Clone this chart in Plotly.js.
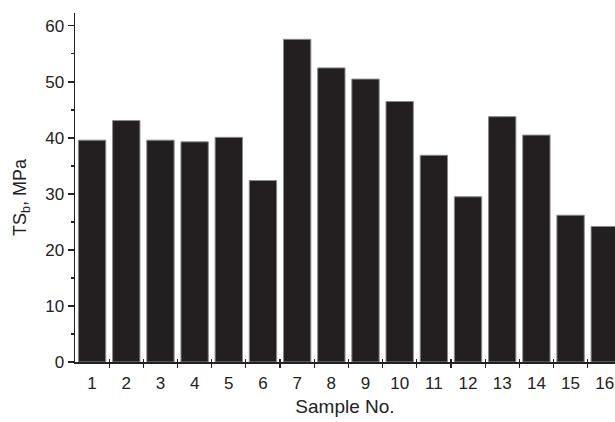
<!DOCTYPE html>
<html>
<head>
<meta charset="utf-8">
<script src="https://cdn.plot.ly/plotly-3.0.1.min.js"></script>
<style>html,body{margin:0;padding:0;background:#fff;}#chart{width:615px;height:422px;}</style>
</head>
<body>
<div id="chart"></div>
<script>
const samples = [1, 2, 3, 4, 5, 6, 7, 8, 9, 10, 11, 12, 13, 14, 15, 16];
const sampleLabels = ["1","2","3","4","5","6","7","8","9","10","11","12","13","14","15","16"];
const tsbValues = [39.6, 43.1, 39.6, 39.3, 40.1, 32.4, 57.6, 52.5, 50.5, 46.5, 36.9, 29.5, 43.8, 40.5, 26.2, 24.2];
const boundaryTicks = [1.5, 2.5, 3.5, 4.5, 5.5, 6.5, 7.5, 8.5, 9.5, 10.5, 11.5, 12.5, 13.5, 14.5, 15.5];
const yTitle = 'TS<sub>b</sub>, MPa';
const xTitle = 'Sample No.';

const font = 'Liberation Sans, Arial, sans-serif';
const xr = [0.5, 16.3];

const traces = [
  {
    type: 'bar', x: samples, y: tsbValues,
    marker: {color: '#231f20', line: {color: '#8a8a8a', width: 1}},
    hoverinfo: 'skip'
  },
  {type: 'scatter', x: [], y: [], xaxis: 'x2', yaxis: 'y', showlegend: false}
];

const layout = {
  width: 615, height: 422,
  margin: {l: 75, r: 0, t: 13, b: 60, pad: 0},
  paper_bgcolor: '#fff', plot_bgcolor: '#fff',
  showlegend: false,
  bargap: 0.2,
  font: {family: font, color: '#222', size: 17},
  xaxis: {
    range: xr, showgrid: false, zeroline: false,
    showline: true, linecolor: '#222', linewidth: 1.5,
    tickmode: 'array', tickvals: samples, ticktext: sampleLabels,
    ticks: 'outside', ticklen: 5, tickcolor: 'rgba(0,0,0,0)',
    tickfont: {family: font, size: 17, color: '#222'},
    minor: {tickmode: 'array', tickvals: boundaryTicks, ticks: 'outside', ticklen: 4, tickwidth: 1.2, tickcolor: '#222'},
    title: {text: xTitle, font: {family: font, size: 19, color: '#222'}, standoff: 8}
  },
  xaxis2: {
    overlaying: 'x', anchor: 'y', range: xr, showgrid: false, zeroline: false,
    showline: false, tickmode: 'array', tickvals: boundaryTicks,
    ticks: 'inside', ticklen: 3, tickwidth: 1.2, tickcolor: '#222', showticklabels: false
  },
  yaxis: {
    range: [0, 62.3], showgrid: false, zeroline: false,
    showline: true, linecolor: '#222', linewidth: 1.5,
    tickmode: 'linear', tick0: 0, dtick: 10,
    ticks: 'outside', ticklen: 6, tickwidth: 1.2, tickcolor: '#222',
    minor: {dtick: 5, tick0: 0, ticks: 'outside', ticklen: 3, tickwidth: 1.2, tickcolor: '#222'},
    tickfont: {family: font, size: 17, color: '#222'}
  },
  annotations: [{
    text: yTitle, xref: 'paper', yref: 'paper', x: -0.098, y: 0.473,
    xanchor: 'center', yanchor: 'middle', textangle: -90, showarrow: false,
    font: {family: font, size: 18, color: '#222'}
  }]
};

Plotly.newPlot('chart', traces, layout, {displayModeBar: false, staticPlot: true});
</script>
</body>
</html>
